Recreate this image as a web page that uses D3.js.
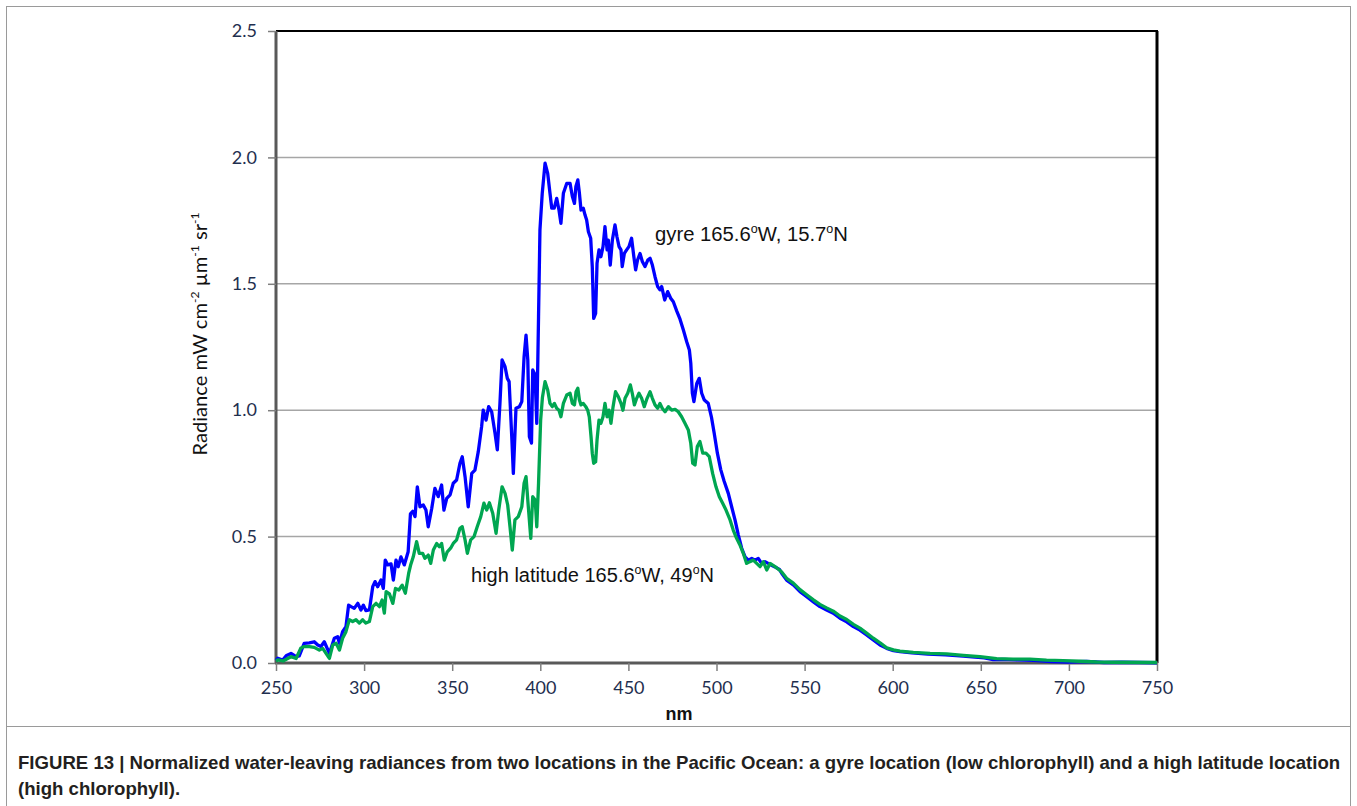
<!DOCTYPE html>
<html>
<head>
<meta charset="utf-8">
<script src="https://cdn.jsdelivr.net/npm/d3@7"></script>
<style>
  html, body { margin: 0; padding: 0; background: #fff; }
  svg { display: block; }
</style>
</head>
<body>
<svg id="fig" width="1357" height="806"></svg>
<script>
// Normalized water-leaving radiance spectra (mW cm^-2 µm^-1 sr^-1) vs wavelength (nm)
const gyreNm = [250,251,253.8,256,258.5,261.4,263.2,266,268.9,271.7,273.7,275.5,277.4,280.3,283.1,285,286,287.8,289.7,291.2,292.6,294.4,296.4,298.2,299.6,301,303,304.9,306.2,307.7,309.6,310.9,312,313.4,315.3,316.6,318.1,319.4,320.9,322.8,325,326.3,327.6,328.9,330.2,331.7,333.6,335.1,336.4,338.4,340.2,342.1,344,345.3,346.9,348.8,350.6,352.5,354.4,355.7,357.3,359.1,361.1,362.9,364.8,366.7,367.6,369.2,370.7,372.4,374.3,375.6,377.1,378.3,380,381.3,382.3,383.8,384.7,386.2,388.1,389.5,390.8,391.9,392.9,393.8,395,395.7,397,398,399,399.8,401.1,402.7,404.2,405.5,406.5,407.9,409.3,410.6,411.7,413.1,415,416.9,418.2,419.4,420.2,421.3,422.2,423.1,424.4,425.4,426.3,427.3,428.6,429.5,430.3,431.4,432.2,433.3,434.4,435.6,436.7,437.9,438.6,439.7,440.9,442.4,443.5,444.7,445.8,446.5,447.7,449,450.3,451.8,453.1,454.1,455.2,456.6,457.9,459.4,461,462.3,463.6,465.1,466.6,467.9,468.9,470.6,472.3,474,475.5,477.4,479.3,481.2,483.1,484.6,485.4,486.3,487.2,488.8,490.2,491.6,493.1,495.3,497.1,498.7,500.5,502.4,504.3,506.7,508.6,510.5,512.4,514.3,516.2,518.1,520,521.8,523.7,525.6,527.5,530.4,533.2,535.7,537,539.8,543.6,547.4,551.2,555,558.7,562.5,566.3,570.1,573.9,577.7,581.4,585.2,589,592.8,596.6,600.4,604.1,611,620,630,640,645,652,657,662,670,680,690,700,710,720,730,740,750];
const gyreVal = [0.01,0.019,0.012,0.03,0.038,0.025,0.028,0.078,0.08,0.084,0.071,0.065,0.084,0.038,0.098,0.104,0.078,0.124,0.144,0.229,0.223,0.216,0.236,0.21,0.229,0.207,0.21,0.302,0.322,0.302,0.328,0.295,0.407,0.388,0.392,0.328,0.407,0.381,0.42,0.388,0.44,0.59,0.6,0.579,0.697,0.618,0.625,0.605,0.539,0.612,0.691,0.658,0.704,0.605,0.651,0.665,0.711,0.724,0.79,0.816,0.737,0.618,0.75,0.763,0.836,0.935,1.0,0.961,1.014,0.994,0.909,0.843,1.027,1.199,1.172,1.126,1.113,0.895,0.75,1.008,1.014,1.034,1.212,1.297,1.199,0.895,0.87,1.159,1.14,0.948,1.37,1.713,1.858,1.977,1.937,1.858,1.799,1.799,1.838,1.792,1.739,1.858,1.897,1.897,1.845,1.818,1.885,1.911,1.858,1.792,1.799,1.772,1.752,1.706,1.68,1.568,1.363,1.383,1.581,1.634,1.607,1.647,1.726,1.634,1.673,1.574,1.673,1.733,1.686,1.647,1.634,1.568,1.62,1.634,1.647,1.68,1.607,1.555,1.594,1.62,1.588,1.568,1.594,1.601,1.574,1.528,1.489,1.476,1.489,1.436,1.469,1.443,1.429,1.393,1.36,1.317,1.271,1.238,1.186,1.067,1.034,1.106,1.126,1.067,1.04,1.027,0.974,0.909,0.83,0.765,0.72,0.671,0.618,0.566,0.506,0.454,0.42,0.407,0.414,0.407,0.414,0.394,0.401,0.39,0.38,0.37,0.355,0.328,0.309,0.282,0.262,0.242,0.223,0.21,0.197,0.177,0.163,0.144,0.13,0.111,0.091,0.071,0.058,0.049,0.045,0.04,0.035,0.032,0.027,0.024,0.02,0.013,0.014,0.012,0.01,0.006,0.004,0.006,0.002,0.003,0.002,0.001];

const highNm = [250,251,254,258.5,261.4,264,266,268.9,271.7,274.6,276.5,278.4,280.3,282.2,284.1,286,287.8,289.7,291.6,293.5,295.4,297.3,299.2,301,303,304.9,306.8,308.7,310.2,311.5,312.5,314.4,316.3,317.8,319.7,321.6,323.4,325.3,326.5,327.9,329.8,331.3,333.2,334.5,336.4,337.8,339.3,341.2,342.7,344,345.5,347.2,349.1,350.6,352.5,354.4,355.7,357.3,358.6,360.5,362.4,364.2,366.2,368,369.6,371.1,373,374.9,376.4,378.3,380,381.5,382.8,384.1,385.6,387.5,389.5,390.8,391.9,393.2,394.6,395.7,397.1,398,399,400.2,401.2,402.7,404.2,405.5,406.8,408,409.3,410.6,411.7,413.1,415,416.9,418.2,419.4,420.3,421.3,422.2,423.1,424.4,425.8,426.9,427.8,428.8,429.5,430.3,431.4,432.2,433.3,434.4,435.6,436.7,437.9,439,440.1,441.3,442.7,444.3,445.8,446.9,448.1,449.6,451.1,452.2,453.4,454.7,456,457.5,459,460.6,462.3,463.6,465.1,466.6,467.9,469.2,470.8,472.7,474.6,476.5,478.3,480.2,482.1,484,485.4,486.5,487.8,489.1,490.6,492.2,494,495.9,497.8,499.7,501.6,503.5,505.4,507.7,509.5,511.4,513.3,515.2,517.1,519,520.9,522.8,524.7,526.6,528.5,530.4,533.2,535.7,537,539.8,543.6,547.4,551.2,555,558.7,562.5,566.3,570.1,573.9,577.7,581.4,585.2,589,592.8,596.6,600.4,604.1,611.7,621.2,630.6,640.1,649.5,659,668.4,677.9,687.3,696.8,706.2,715.7,725.1,750];
const highVal = [0.008,0.012,0.008,0.025,0.018,0.058,0.065,0.065,0.062,0.051,0.058,0.038,0.018,0.071,0.078,0.051,0.098,0.124,0.171,0.164,0.171,0.158,0.171,0.158,0.164,0.223,0.236,0.223,0.249,0.197,0.282,0.273,0.236,0.295,0.289,0.308,0.276,0.355,0.39,0.42,0.48,0.434,0.434,0.414,0.427,0.394,0.447,0.473,0.46,0.473,0.407,0.44,0.454,0.473,0.487,0.533,0.539,0.487,0.434,0.487,0.5,0.539,0.579,0.632,0.605,0.634,0.592,0.513,0.605,0.697,0.671,0.625,0.539,0.447,0.566,0.579,0.618,0.711,0.737,0.618,0.493,0.658,0.645,0.539,0.711,0.961,1.05,1.113,1.08,1.027,1.014,1.027,1.008,1.0,0.974,1.027,1.06,1.067,1.027,1.021,1.073,1.087,1.04,1.021,1.027,1.014,1.0,0.974,0.895,0.83,0.79,0.796,0.882,0.961,0.948,0.974,1.027,0.974,1.0,0.948,1.014,1.073,1.053,1.027,1.0,1.047,1.067,1.1,1.067,1.021,1.047,1.067,1.047,1.014,1.047,1.073,1.047,1.021,1.008,1.027,1.008,0.994,1.014,1.0,1.003,0.994,0.974,0.948,0.922,0.869,0.79,0.783,0.856,0.876,0.83,0.83,0.816,0.75,0.697,0.658,0.632,0.605,0.566,0.526,0.493,0.467,0.434,0.394,0.401,0.407,0.394,0.381,0.401,0.368,0.394,0.381,0.368,0.36,0.335,0.316,0.29,0.27,0.25,0.232,0.218,0.205,0.186,0.172,0.153,0.138,0.118,0.098,0.08,0.06,0.052,0.047,0.042,0.038,0.036,0.03,0.025,0.017,0.015,0.015,0.011,0.009,0.007,0.004,0.003,0.002];

const xTicks = [250,300,350,400,450,500,550,600,650,700,750];
const yTicks = [0.0,0.5,1.0,1.5,2.0,2.5];

const svg = d3.select("#fig");
const W = 1357, H = 806;
const plot = { left: 276, right: 1157, top: 31, bottom: 663 };

const x = d3.scaleLinear().domain([250, 750]).range([plot.left, plot.right]);
const y = d3.scaleLinear().domain([0, 2.5]).range([plot.bottom, plot.top]);

// outer figure frame
svg.append("rect").attr("x", 6.5).attr("y", 6.5).attr("width", 1344).attr("height", 720)
  .attr("fill", "none").attr("stroke", "#9a9a9a").attr("stroke-width", 1);
svg.append("line").attr("x1", 6.5).attr("x2", 6.5).attr("y1", 726).attr("y2", H)
  .attr("stroke", "#9a9a9a").attr("stroke-width", 1);
svg.append("line").attr("x1", 1350.5).attr("x2", 1350.5).attr("y1", 726).attr("y2", H)
  .attr("stroke", "#9a9a9a").attr("stroke-width", 1);

// horizontal gridlines
svg.append("g").selectAll("line")
  .data(yTicks.filter(d => d > 0 && d < 2.5))
  .join("line")
  .attr("x1", plot.left).attr("x2", plot.right)
  .attr("y1", d => y(d)).attr("y2", d => y(d))
  .attr("stroke", "#a6a6a6").attr("stroke-width", 1.5);

// top and right plot border
svg.append("line").attr("x1", plot.left).attr("x2", plot.right + 1)
  .attr("y1", plot.top).attr("y2", plot.top).attr("stroke", "#000").attr("stroke-width", 2);
svg.append("line").attr("x1", plot.right).attr("x2", plot.right)
  .attr("y1", plot.top).attr("y2", plot.bottom).attr("stroke", "#000").attr("stroke-width", 3);

// axes
const tickFont = "Lato, 'Open Sans', sans-serif";
const yAxis = svg.append("g").attr("transform", `translate(${plot.left},0)`)
  .call(d3.axisLeft(y).tickValues(yTicks).tickFormat(d3.format(".1f")).tickSize(8).tickPadding(11));
const xAxis = svg.append("g").attr("transform", `translate(0,${plot.bottom})`)
  .call(d3.axisBottom(x).tickValues(xTicks).tickFormat(d3.format("d")).tickSize(8).tickPadding(10));

[yAxis, xAxis].forEach(g => {
  g.selectAll("text").attr("font-family", tickFont).attr("font-size", 18).attr("fill", "#1f2f4f");
  g.selectAll(".tick line").attr("stroke", "#7f7f7f").attr("stroke-width", 1.5);
});
yAxis.select(".domain").attr("stroke", "#595959").attr("stroke-width", 3).attr("d", `M0,${plot.top}V${plot.bottom + 1}`);
xAxis.select(".domain").attr("stroke", "#595959").attr("stroke-width", 3).attr("d", `M${plot.left - 1},0H${plot.right + 1}`);

// spectra
const line = d3.line().x(d => x(d[0])).y(d => y(d[1]));
const gyre = gyreNm.map((n, i) => [n, gyreVal[i]]);
const high = highNm.map((n, i) => [n, highVal[i]]);

svg.append("path").datum(gyre).attr("d", line)
  .attr("fill", "none").attr("stroke", "#0000ff").attr("stroke-width", 3.3).attr("stroke-linejoin", "round");
svg.append("path").datum(high).attr("d", line)
  .attr("fill", "none").attr("stroke", "#00a651").attr("stroke-width", 3.3).attr("stroke-linejoin", "round");

// series annotations
const annFont = "'Liberation Sans', Arial, sans-serif";
function annotate(px, py, parts, size) {
  const t = svg.append("text").attr("x", px).attr("y", py)
    .attr("font-family", annFont).attr("font-size", size).attr("fill", "#111");
  parts.forEach(p => {
    const s = t.append("tspan").text(p[0]);
    if (p[1]) s.attr("font-size", size * 0.62).attr("dy", -8);
    else if (p[2]) s.attr("dy", 8);
  });
  return t;
}
annotate(655, 241, [["gyre 165.6"], ["o", true], ["W, 15.7", false, true], ["o", true], ["N", false, true]], 19.5)
  .attr("textLength", 193).attr("lengthAdjust", "spacingAndGlyphs");
annotate(471, 582, [["high latitude 165.6"], ["o", true], ["W, 49", false, true], ["o", true], ["N", false, true]], 19.5)
  .attr("textLength", 243).attr("lengthAdjust", "spacingAndGlyphs");

// axis titles
svg.append("text").attr("x", 679).attr("y", 720).attr("text-anchor", "middle")
  .attr("font-family", annFont).attr("font-weight", "bold").attr("font-size", 18).attr("fill", "#111")
  .text("nm");

const yt = svg.append("text").attr("transform", "translate(207,334) rotate(-90)")
  .attr("text-anchor", "middle").attr("font-family", tickFont).attr("font-size", 20).attr("fill", "#111")
  .attr("textLength", 243).attr("lengthAdjust", "spacingAndGlyphs");
[["Radiance mW cm"], ["-2", true], [" µm", false, true], ["-1", true], [" sr", false, true], ["-1", true]].forEach(p => {
  const s = yt.append("tspan").text(p[0]);
  if (p[1]) s.attr("font-size", 12).attr("dy", -8);
  else if (p[2]) s.attr("dy", 8);
});

// caption: both lines share one horizontal condensing factor
const capFont = "'Liberation Sans Narrow', 'Liberation Sans', Arial, sans-serif";
const cap = svg.append("g");
const cap1 = cap.append("text").attr("x", 0).attr("y", 769)
  .attr("font-family", capFont).attr("font-weight", "bold").attr("font-size", 17.5).attr("fill", "#231f20")
  .text("FIGURE 13 | Normalized water-leaving radiances from two locations in the Pacific Ocean: a gyre location (low chlorophyll) and a high latitude location");
cap.append("text").attr("x", 0).attr("y", 795)
  .attr("font-family", capFont).attr("font-weight", "bold").attr("font-size", 17.5).attr("fill", "#231f20")
  .text("(high chlorophyll).");
const k = 1323 / cap1.node().getComputedTextLength();
cap.attr("transform", `translate(18,0) scale(${k},1)`);
</script>
</body>
</html>
